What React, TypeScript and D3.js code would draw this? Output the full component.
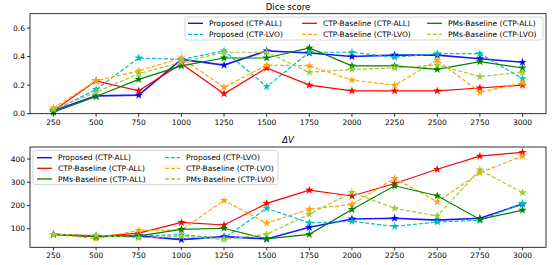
import React from "react";
import * as d3 from "d3";

const xValues = [250, 500, 750, 1000, 1250, 1500, 1750, 2000, 2250, 2500, 2750, 3000];

const seriesNames = [
  "Proposed (CTP-ALL)",
  "Proposed (CTP-LVO)",
  "CTP-Baseline (CTP-ALL)",
  "CTP-Baseline (CTP-LVO)",
  "PMs-Baseline (CTP-ALL)",
  "PMs-Baseline (CTP-LVO)",
];

// Dice score
const diceProposedAll = [0.02, 0.125, 0.13, 0.38, 0.34, 0.44, 0.425, 0.40, 0.41, 0.41, 0.385, 0.36];
const diceProposedLvo = [0.02, 0.17, 0.39, 0.38, 0.44, 0.19, 0.43, 0.43, 0.395, 0.42, 0.42, 0.245];
const diceCtpAll = [0.02, 0.23, 0.16, 0.35, 0.14, 0.32, 0.20, 0.16, 0.16, 0.16, 0.18, 0.20];
const diceCtpLvo = [0.04, 0.23, 0.30, 0.39, 0.185, 0.34, 0.335, 0.235, 0.20, 0.375, 0.15, 0.215];
const dicePmsAll = [0.01, 0.12, 0.24, 0.335, 0.39, 0.39, 0.46, 0.335, 0.335, 0.31, 0.365, 0.32];
const dicePmsLvo = [0.03, 0.15, 0.28, 0.36, 0.43, 0.43, 0.29, 0.31, 0.32, 0.34, 0.26, 0.29];

// Delta V
const dvProposedAll = [76, 67, 69, 53, 66, 56, 106, 142, 145, 137, 145, 206];
const dvProposedLvo = [76, 66, 70, 74, 59, 188, 125, 132, 110, 129, 136, 209];
const dvCtpAll = [76, 66, 81, 127, 116, 209, 266, 241, 295, 356, 413, 429];
const dvCtpLvo = [76, 57, 93, 94, 222, 124, 184, 205, 317, 216, 341, 413];
const dvPmsAll = [76, 67, 69, 97, 102, 56, 76, 183, 285, 242, 140, 180];
const dvPmsLvo = [76, 72, 61, 67, 54, 76, 163, 257, 188, 155, 353, 255];

const diceTicks = [0.0, 0.2, 0.4, 0.6];
const dvTicks = [100, 200, 300, 400];

const colors = ["#0000ff", "#00bfbf", "#ff0000", "#ffa500", "#008000", "#9acd32"];
const dashed = [false, true, false, true, false, true];

const diceData = [diceProposedAll, diceProposedLvo, diceCtpAll, diceCtpLvo, dicePmsAll, dicePmsLvo];
const dvData = [dvProposedAll, dvProposedLvo, dvCtpAll, dvCtpLvo, dvPmsAll, dvPmsLvo];

const FONT = "DejaVu Sans";
const FS = 7.5;

const xScale = d3.scaleLinear().domain([112.5, 3137.5]).range([30, 546]);

function Panel({ data, yDomain, yRange, yTicks, fmt, title, titleY, titleItalic, legend }: any) {
  const y = d3.scaleLinear().domain(yDomain).range(yRange);
  const [bottom, top] = yRange;
  const line = d3
    .line<number>()
    .x((_, i) => xScale(xValues[i]))
    .y((v) => y(v));
  const star = d3.symbol().type(d3.symbolStar).size(22);
  return (
    <g>
      <text x={288} y={titleY} textAnchor="middle" fontFamily={FONT} fontSize={8.5} fontStyle={titleItalic ? "italic" : "normal"}>
        {title}
      </text>
      {data.map((vals: number[], si: number) => (
        <g key={si}>
          <path
            d={line(vals) || ""}
            fill="none"
            stroke={colors[si]}
            strokeWidth={si === 0 ? 1.6 : 1.2}
            strokeDasharray={dashed[si] ? "4,2" : undefined}
            strokeOpacity={si === 0 ? 0.9 : 1}
          />
          {vals.map((v, i) => (
            <path key={i} d={star() || ""} transform={`translate(${xScale(xValues[i])},${y(v)})`} fill={colors[si]} />
          ))}
        </g>
      ))}
      <rect x={30} y={top} width={516} height={bottom - top} fill="none" stroke="#000" strokeWidth={0.8} />
      {xValues.map((t) => (
        <g key={t}>
          <line x1={xScale(t)} x2={xScale(t)} y1={bottom} y2={bottom + 3} stroke="#000" strokeWidth={0.8} />
          <text x={xScale(t)} y={bottom + 11} textAnchor="middle" fontFamily={FONT} fontSize={FS}>
            {t}
          </text>
        </g>
      ))}
      {yTicks.map((t: number) => (
        <g key={t}>
          <line x1={27} x2={30} y1={y(t)} y2={y(t)} stroke="#000" strokeWidth={0.8} />
          <text x={25} y={y(t) + 2.7} textAnchor="end" fontFamily={FONT} fontSize={FS}>
            {fmt(t)}
          </text>
        </g>
      ))}
      <rect
        x={legend.x}
        y={legend.y}
        width={legend.w}
        height={legend.h}
        rx={2}
        fill="#fff"
        fillOpacity={0.8}
        stroke="#cccccc"
        strokeWidth={0.8}
      />
      {legend.items.map((it: any, k: number) => (
        <g key={k}>
          <line
            x1={it.x}
            x2={it.x + 15}
            y1={it.y}
            y2={it.y}
            stroke={colors[it.s]}
            strokeWidth={1.3}
            strokeDasharray={dashed[it.s] ? "4,2" : undefined}
          />
          <text x={it.x + 21} y={it.y + 2.7} fontFamily={FONT} fontSize={FS}>
            {seriesNames[it.s]}
          </text>
        </g>
      ))}
    </g>
  );
}

export default function App() {
  const topLegend = {
    x: 185,
    y: 17,
    w: 358,
    h: 23,
    items: [
      { s: 0, x: 188, y: 23.3 },
      { s: 1, x: 188, y: 34.3 },
      { s: 2, x: 302, y: 23.3 },
      { s: 3, x: 302, y: 34.3 },
      { s: 4, x: 427, y: 23.3 },
      { s: 5, x: 427, y: 34.3 },
    ],
  };
  const botLegend = {
    x: 33,
    y: 150.5,
    w: 245,
    h: 34,
    items: [
      { s: 0, x: 37, y: 157.7 },
      { s: 2, x: 37, y: 168.3 },
      { s: 4, x: 37, y: 179 },
      { s: 1, x: 165, y: 157.7 },
      { s: 3, x: 165, y: 168.3 },
      { s: 5, x: 165, y: 179 },
    ],
  };
  return (
    <svg width={556} height={265} style={{ position: "absolute", left: 0, top: 0, background: "#fff" }}>
      <rect width={556} height={265} fill="#fff" />
      <Panel
        data={diceData}
        yDomain={[0, 0.7]}
        yRange={[113.7, 13.7]}
        yTicks={diceTicks}
        fmt={(t: number) => t.toFixed(1)}
        title="Dice score"
        titleY={10}
        titleItalic={false}
        legend={topLegend}
      />
      <Panel
        data={dvData}
        yDomain={[20, 452]}
        yRange={[247.3, 147]}
        yTicks={dvTicks}
        fmt={(t: number) => String(t)}
        title="ΔV"
        titleY={143}
        titleItalic={true}
        legend={botLegend}
      />
    </svg>
  );
}
